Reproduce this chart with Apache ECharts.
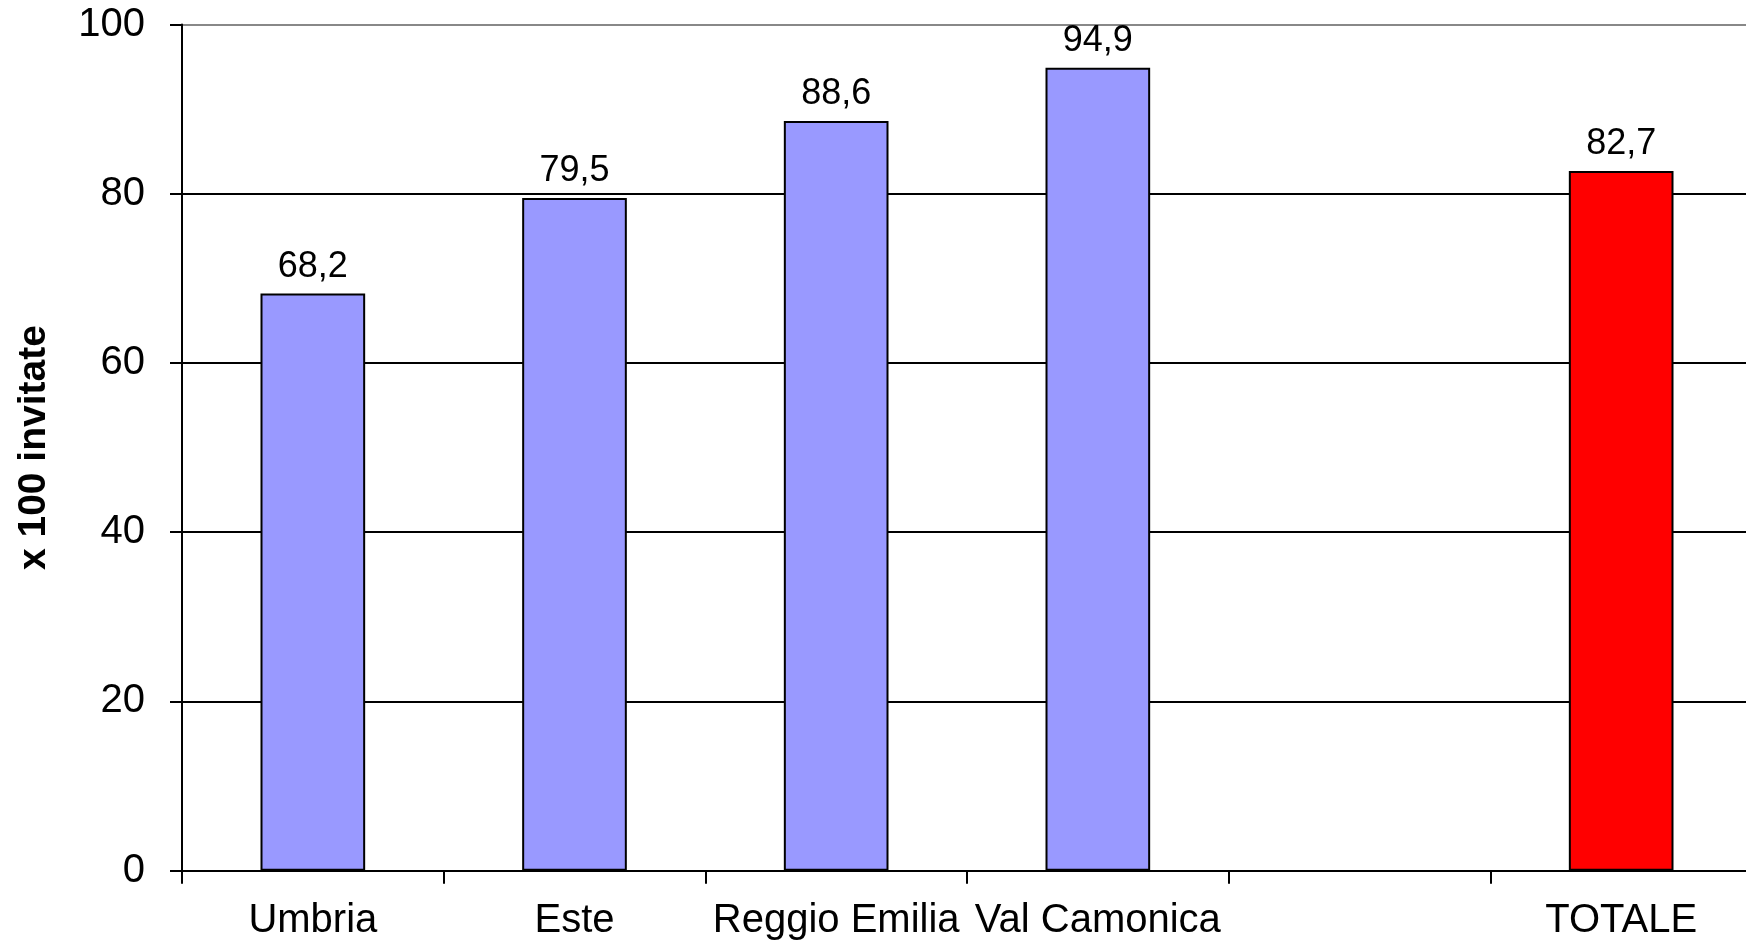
<!DOCTYPE html>
<html>
<head>
<meta charset="utf-8">
<script src="https://cdn.jsdelivr.net/npm/echarts@6/dist/echarts.min.js"></script>
<style>
html,body{margin:0;padding:0;background:#fff;}
#chart{width:1746px;height:944px;}
</style>
</head>
<body>
<div id="chart"></div>
<script>
const categories = ['Umbria', 'Este', 'Reggio Emilia', 'Val Camonica', '', 'TOTALE'];
const values = [68.2, 79.5, 88.6, 94.9, null, 82.7];
const barColors = ['#9999FF', '#9999FF', '#9999FF', '#9999FF', '#9999FF', '#FF0000'];
const yTicks = [0, 20, 40, 60, 80, 100];
const yTitle = 'x 100 invitate';

const FONT = '"Liberation Sans", Arial, sans-serif';
const chart = echarts.init(document.getElementById('chart'), null, {renderer: 'canvas'});
chart.setOption({
  animation: false,
  backgroundColor: '#ffffff',
  grid: {left: 182, top: 24.5, height: 846.2, width: 1570, containLabel: false, outerBoundsMode: 'none'},
  xAxis: {
    type: 'category',
    data: categories,
    axisLine: {show: true, lineStyle: {color: '#000', width: 2}},
    axisTick: {show: true, length: 13, lineStyle: {color: '#000', width: 2}},
    axisLabel: {color: '#000', fontFamily: FONT, fontSize: 40, margin: 30, interval: 0}
  },
  yAxis: {
    type: 'value',
    min: yTicks[0],
    max: yTicks[yTicks.length - 1],
    interval: 20,
    name: yTitle,
    nameLocation: 'middle',
    nameGap: 128,
    nameRotate: 90,
    nameTextStyle: {color: '#000', fontFamily: FONT, fontSize: 39, fontWeight: 'bold'},
    axisLine: {show: true, lineStyle: {color: '#000', width: 2}},
    axisTick: {show: true, length: 12, lineStyle: {color: '#000', width: 2}},
    axisLabel: {color: '#000', fontFamily: FONT, fontSize: 40, margin: 37,
      formatter: v => yTicks.includes(v) ? String(v) : ''},
    splitLine: {show: true, lineStyle: {color: ['#000', '#000', '#000', '#000', '#000', '#888'], width: 2}}
  },
  series: [{
    type: 'bar',
    barWidth: '40%',
    data: values.map((v, i) => ({value: v, itemStyle: {color: barColors[i]}})),
    itemStyle: {borderColor: '#000', borderWidth: 2},
    label: {
      show: true, position: 'top', distance: 9, color: '#000', fontFamily: FONT, fontSize: 36,
      formatter: p => p.value == null ? '' : p.value.toFixed(1).replace('.', ',')
    }
  }]
});
</script>
</body>
</html>
